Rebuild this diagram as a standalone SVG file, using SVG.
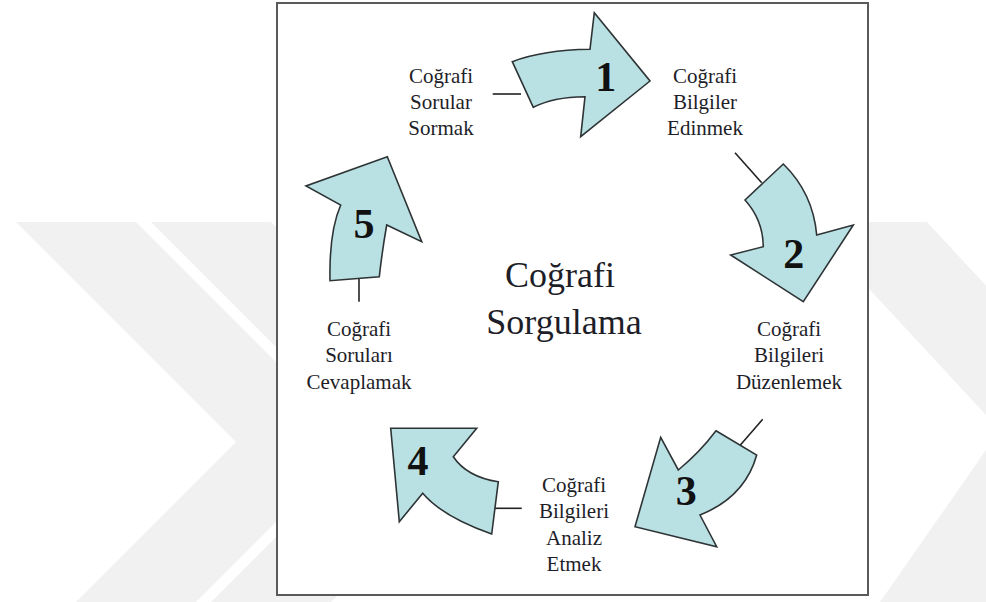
<svg xmlns="http://www.w3.org/2000/svg" width="986" height="602" viewBox="0 0 986 602">
<defs>
<style>
.wm{fill:#f1f1f1;stroke:none}
.frame{fill:#ffffff;stroke:#5a5a5a;stroke-width:2}
.arrow{fill:#b9e0e3;stroke:#2e3436;stroke-width:1.6;stroke-linejoin:miter}
.num{font-family:"Liberation Serif","Times New Roman",serif;font-weight:bold;font-size:42px;fill:#111;text-anchor:middle}
.lbl{font-family:"Liberation Serif","Times New Roman",serif;font-size:21px;fill:#1e1e28;text-anchor:middle}
.title{font-family:"Liberation Serif","Times New Roman",serif;font-size:36px;fill:#1e1e28;text-anchor:middle}
.conn{stroke:#222;stroke-width:1.6;fill:none}
</style>
</defs>
<rect width="986" height="602" fill="#ffffff"/>
<g id="watermark">
<polygon class="wm" points="16,222 136,222 356,442 196,602 76,602 236,442"/>
<polygon class="wm" points="151,222 271,222 491,442 331,602 211,602 371,442"/>
<polygon class="wm" points="807,222 927,222 1120,430 1000,602 880,602 1000,430"/>
</g>
<rect class="frame" x="277" y="3" width="591" height="592"/>
<g id="title">
<text class="title" x="560" y="287">Coğrafi</text>
<text class="title" x="564" y="334">Sorgulama</text>
</g>
<g id="connectors">
<line class="conn" x1="492.7" y1="94" x2="521" y2="94"/>
<line class="conn" x1="735" y1="152.7" x2="761.7" y2="182.7"/>
<line class="conn" x1="762.7" y1="419.3" x2="736.7" y2="449.3"/>
<line class="conn" x1="493.3" y1="508.3" x2="521.7" y2="508.3"/>
<line class="conn" x1="359" y1="270.7" x2="359" y2="301.7"/>
</g>
<g id="arrow1">
<path class="arrow" d="M512.3,61.7 Q543,50 590,49.3 L594.3,12.7 L650,81 L580.7,136.7 L585,96.7 Q553,97 533.3,107.3 Z"/>
<text class="num" x="605.7" y="90.7">1</text>
</g>
<g id="arrow2">
<path class="arrow" d="M783.3,164 L745,200 Q763,220 763.3,246.7 L730.7,255 L803.3,301.7 L853.3,225 L816.7,235 Q813,193 783.3,164 Z"/>
<text class="num" x="793.7" y="268.3">2</text>
</g>
<g id="arrow3">
<path class="arrow" d="M716,430.7 L756.7,455 Q745,497 700,515 L716.7,546.7 L635,526.7 L660.7,437.3 L678.3,470 Q700,452 716,430.7 Z"/>
<text class="num" x="686.3" y="505">3</text>
</g>
<g id="arrow4">
<path class="arrow" d="M390.7,428.3 L476.7,428.3 L453.3,456.7 Q467,477 498.3,481.7 L491.7,534 Q443,517 422.7,493.3 L399.3,521.7 Z"/>
<text class="num" x="418" y="475">4</text>
</g>
<g id="arrow5">
<path class="arrow" d="M387.3,156.7 L421.7,241.7 L386.7,225 Q382,252 379.3,276.7 L330,280.7 Q329,232 340.7,205 L306,186 Z"/>
<text class="num" x="364" y="238.3">5</text>
</g>
<g id="node-sormak">
<text class="lbl" x="441" y="83">Coğrafi</text>
<text class="lbl" x="441" y="109">Sorular</text>
<text class="lbl" x="441" y="135">Sormak</text>
</g>
<g id="node-edinmek">
<text class="lbl" x="705" y="83">Coğrafi</text>
<text class="lbl" x="705" y="109">Bilgiler</text>
<text class="lbl" x="705" y="135">Edinmek</text>
</g>
<g id="node-duzenlemek">
<text class="lbl" x="789" y="336">Coğrafi</text>
<text class="lbl" x="789" y="362">Bilgileri</text>
<text class="lbl" x="789" y="389">Düzenlemek</text>
</g>
<g id="node-analiz">
<text class="lbl" x="574" y="492">Coğrafi</text>
<text class="lbl" x="574" y="518">Bilgileri</text>
<text class="lbl" x="574" y="545">Analiz</text>
<text class="lbl" x="574" y="571">Etmek</text>
</g>
<g id="node-cevaplamak">
<text class="lbl" x="359" y="336">Coğrafi</text>
<text class="lbl" x="359" y="362">Soruları</text>
<text class="lbl" x="359" y="389">Cevaplamak</text>
</g>
</svg>
